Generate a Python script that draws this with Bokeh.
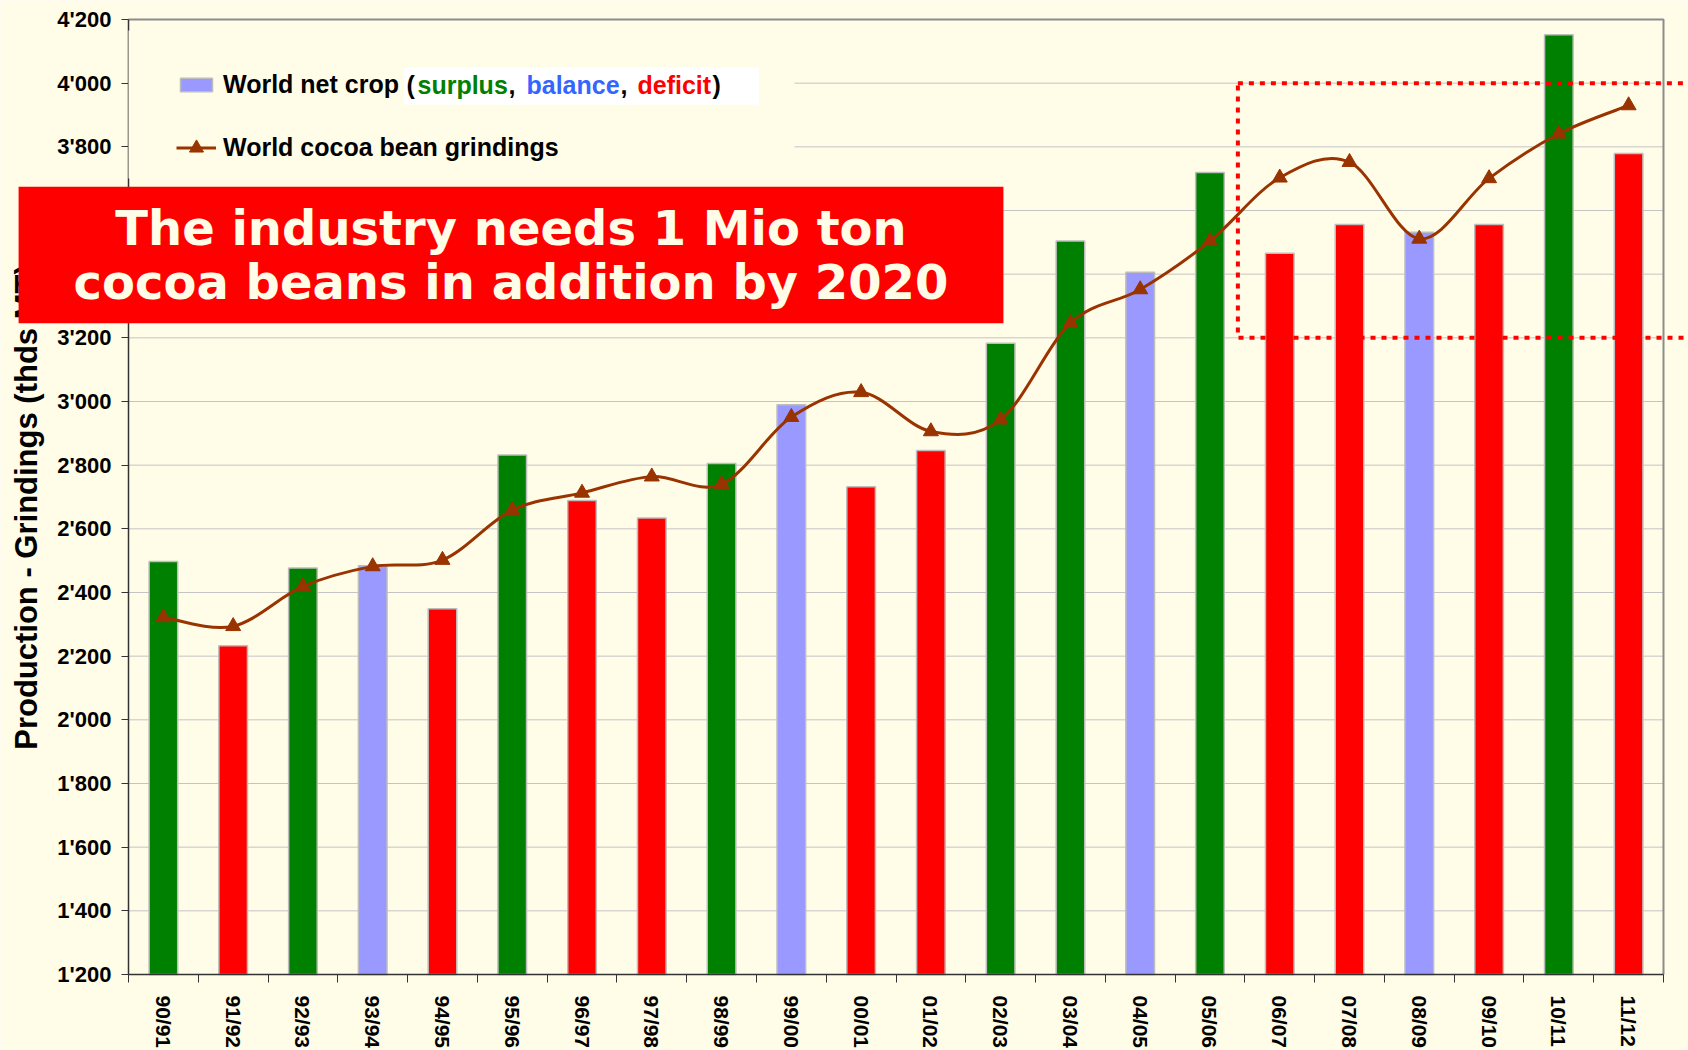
from bokeh.plotting import figure
from bokeh.models import (Range1d, FixedTicker, Legend, LegendItem, Label,
                          BoxAnnotation, ColumnDataSource, LinearAxis)
from bokeh.embed import file_html
from bokeh.resources import INLINE

# ---------------- data ----------------
seasons = ["90/91", "91/92", "92/93", "93/94", "94/95", "95/96", "96/97", "97/98",
           "98/99", "99/00", "00/01", "01/02", "02/03", "03/04", "04/05", "05/06",
           "06/07", "07/08", "08/09", "09/10", "10/11", "11/12"]
net_crop = [2497, 2233, 2477, 2484, 2349, 2832, 2689, 2634, 2805, 2990, 2732,
            2846, 3183, 3504, 3406, 3719, 3466, 3556, 3532, 3556, 4152, 3779]
grindings = [2322, 2294, 2419, 2482, 2502, 2659, 2713, 2764, 2740, 2951, 3029,
             2906, 2943, 3246, 3352, 3504, 3703, 3752, 3511, 3701, 3841, 3930]
status = ["surplus", "deficit", "surplus", "balance", "deficit", "surplus",
          "deficit", "deficit", "surplus", "balance", "deficit", "deficit",
          "surplus", "surplus", "balance", "surplus", "deficit", "deficit",
          "balance", "deficit", "surplus", "deficit"]
y_ticks = list(range(1200, 4201, 200))
highlight_top, highlight_bottom = 4000, 3200
highlight_left_season = 15.9
headline = "The industry needs 1 Mio ton\ncocoa beans in addition by 2020"
y_title = "Production - Grindings (thds MT)"
note_words = ["surplus", "balance", "deficit"]

# ---------------- styles / geometry ----------------
CREAM = "#FFFCE8"
BAR_COLORS = {"surplus": "#008000", "balance": "#9999FF", "deficit": "#FF0000"}
NOTE_COLORS = {"surplus": "#008000", "balance": "#3366FF", "deficit": "#FF0000"}
LINE_COLOR = "#993300"
AXIS_COLOR = "#333333"
FONT = "Liberation Sans"

FIG_W, FIG_H = 1688, 1050
Y_MIN, Y_MAX = y_ticks[0], y_ticks[-1]
N = len(seasons)

# page positions of the plot area (axis at left, 0..N categories)
AX_LEFT, AX_RIGHT = 128.0, 1663.0
AX_TOP, AX_BOTTOM = 19.0, 974.0
PXC = (AX_RIGHT - AX_LEFT) / N
UNITS_PER_PX = (Y_MAX - Y_MIN) / (AX_BOTTOM - AX_TOP)


def dx(page_x):
    return (page_x - AX_LEFT) / PXC


def dy(page_y):
    return Y_MIN + (AX_BOTTOM - page_y) * UNITS_PER_PX


xs = [i + 0.5 for i in range(N)]

# the frame covers the whole canvas; both axes are pinned inside it
p = figure(width=FIG_W, height=FIG_H, x_range=Range1d(dx(0), dx(FIG_W)),
           y_range=Range1d(dy(FIG_H), dy(0)), output_backend="svg",
           toolbar_location=None, min_border=0,
           background_fill_color=CREAM, border_fill_color=CREAM,
           outline_line_color=None)

p.xgrid.visible = False
p.ygrid.visible = False

# horizontal gridlines inside the plot area
p.segment(x0=[0] * len(y_ticks), x1=[N] * len(y_ticks), y0=y_ticks, y1=y_ticks,
          line_color="#C4C4C4", line_width=1)

# bars
bar_src = ColumnDataSource(dict(x=xs, top=net_crop,
                                color=[BAR_COLORS[s] for s in status]))
bars = p.vbar(x="x", top="top", bottom=Y_MIN, width=0.41, source=bar_src,
              fill_color="color", line_color="#BDBDBD", line_width=1.5)

# smoothed grindings line (Catmull-Rom style bezier through the points)
bz = dict(x0=[], y0=[], x1=[], y1=[], cx0=[], cy0=[], cx1=[], cy1=[])
for i in range(N - 1):
    xa, ya = xs[i], grindings[i]
    xb, yb = xs[i + 1], grindings[i + 1]
    xm, ym = (xs[i - 1], grindings[i - 1]) if i > 0 else (xa, ya)
    xn, yn = (xs[i + 2], grindings[i + 2]) if i + 2 < N else (xb, yb)
    bz["x0"].append(xa); bz["y0"].append(ya)
    bz["x1"].append(xb); bz["y1"].append(yb)
    bz["cx0"].append(xa + (xb - xm) / 6); bz["cy0"].append(ya + (yb - ym) / 6)
    bz["cx1"].append(xb - (xn - xa) / 6); bz["cy1"].append(yb - (yn - ya) / 6)
curve = p.bezier(x0="x0", y0="y0", x1="x1", y1="y1", cx0="cx0", cy0="cy0",
                 cx1="cx1", cy1="cy1", source=ColumnDataSource(bz),
                 line_color=LINE_COLOR, line_width=3)
marks = p.scatter(x=xs, y=grindings, marker="triangle", size=15,
                  fill_color=LINE_COLOR, line_color=LINE_COLOR)

# plot area border (top & right)
p.line(x=[0, N, N], y=[Y_MAX, Y_MAX, Y_MIN], line_color="#8C8C8C", line_width=2)

# highlight box
p.add_layout(BoxAnnotation(left=highlight_left_season, right=dx(FIG_W) + 5,
                           top=highlight_top, bottom=highlight_bottom,
                           fill_alpha=0, line_color="#FF0000", line_alpha=1,
                           line_width=4, line_dash="5 6"))

# x axis, pinned at y = Y_MIN
xa_ = p.xaxis[0]
xa_.fixed_location = Y_MIN
xa_.ticker = FixedTicker(ticks=xs, minor_ticks=list(range(N + 1)))
xa_.major_label_overrides = {x: s for x, s in zip(xs, seasons)}
xa_.major_label_orientation = "vertical"
xa_.bounds = (0, N)
xa_.major_tick_out = 0
xa_.major_tick_in = 0
xa_.minor_tick_out = 8
xa_.minor_tick_in = 0
xa_.minor_tick_line_color = AXIS_COLOR
xa_.axis_line_color = AXIS_COLOR
xa_.axis_line_width = 1.5
xa_.major_label_standoff = 13
xa_.major_label_text_font = FONT
xa_.major_label_text_font_size = "21px"
xa_.major_label_text_font_style = "bold"
xa_.major_label_text_color = "black"

# y axis, pinned at x = 0
ya_ = p.yaxis[0]
ya_.fixed_location = 0
ya_.bounds = (Y_MIN, Y_MAX)
ya_.ticker = FixedTicker(ticks=y_ticks, minor_ticks=[])
ya_.major_label_overrides = {t: f"{t // 1000}'{t % 1000:03d}" for t in y_ticks}
ya_.major_tick_out = 7
ya_.major_tick_in = 0
ya_.major_tick_line_color = AXIS_COLOR
ya_.axis_line_color = AXIS_COLOR
ya_.axis_line_width = 1.5
ya_.major_label_standoff = 10
ya_.major_label_text_font = FONT
ya_.major_label_text_font_size = "22px"
ya_.major_label_text_font_style = "bold"
ya_.major_label_text_color = "black"

# y-axis title carried by a bare pinned axis, set slightly lower than centre
TITLE_SHIFT = 10 * UNITS_PER_PX
title_axis = LinearAxis(fixed_location=0, ticker=FixedTicker(ticks=[], minor_ticks=[]),
                        bounds=(Y_MIN - TITLE_SHIFT, Y_MAX - TITLE_SHIFT),
                        axis_line_alpha=0, major_tick_out=0, major_tick_in=0,
                        minor_tick_out=0, minor_tick_in=0,
                        axis_label=y_title, axis_label_text_font=FONT,
                        axis_label_text_font_size="31px",
                        axis_label_text_font_style="bold",
                        axis_label_text_color="black", axis_label_standoff=85)
p.add_layout(title_axis, "left")

# legend backdrop (hides gridlines) and legends
p.add_layout(BoxAnnotation(left=0, right=dx(794), top=dy(30), bottom=dy(178),
                           fill_color=CREAM, fill_alpha=1, line_alpha=0))

common = dict(padding=0, margin=0, spacing=0, background_fill_alpha=0,
              border_line_alpha=0, label_standoff=7, glyph_width=40,
              label_text_font=FONT, label_text_font_size="25px",
              label_text_font_style="bold", label_text_color="black")
leg1 = Legend(items=[LegendItem(label="World net crop", renderers=[bars], index=3)],
              location=(176, FIG_H - 98.5), glyph_height=17, **common)
leg2 = Legend(items=[LegendItem(label="World cocoa bean grindings",
                                renderers=[curve, marks])],
              location=(176, FIG_H - 164.5), glyph_height=35, **common)
p.add_layout(leg1)
p.add_layout(leg2)

# coloured note "(surplus, balance, deficit)" in a white box
p.add_layout(BoxAnnotation(left=dx(403.5), right=dx(758.5), top=dy(66.7),
                           bottom=dy(104.3), fill_color="white", fill_alpha=1,
                           line_alpha=0))
pieces = [("(", "black", 406), (note_words[0], NOTE_COLORS[note_words[0]], 417),
          (",", "black", 508), (note_words[1], NOTE_COLORS[note_words[1]], 526),
          (",", "black", 620), (note_words[2], NOTE_COLORS[note_words[2]], 637),
          (")", "black", 712)]
for txt, col, px in pieces:
    p.add_layout(Label(x=dx(px), y=dy(84.5), text=txt, text_color=col,
                       text_font=FONT, text_font_size="25px",
                       text_font_style="bold", text_align="left",
                       text_baseline="middle"))

# red headline box
p.add_layout(Label(x=dx(510.5), y=dy(254.5), text=headline, text_align="center",
                   text_baseline="middle", text_font="DejaVu Sans",
                   text_font_size="48px", text_font_style="bold",
                   text_color=CREAM, text_line_height=0.97,
                   background_fill_color="#FF0000", background_fill_alpha=1,
                   padding=(55, 13)))

open("out.html", "w").write(file_html(p, INLINE))
